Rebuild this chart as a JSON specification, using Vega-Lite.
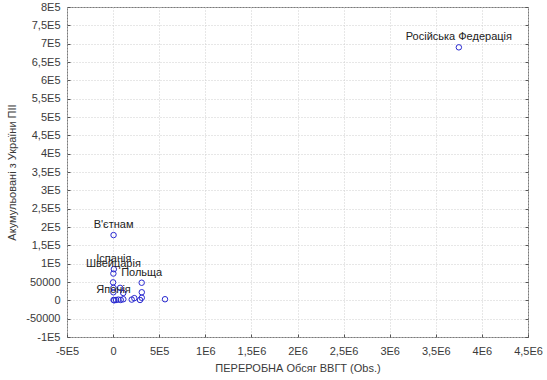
{
  "$schema": "https://vega.github.io/schema/vega-lite/v6.json",
  "width": 461,
  "height": 330,
  "autosize": "none",
  "padding": {"left": 67, "top": 7, "right": 19, "bottom": 43},
  "background": "white",
  "config": {
    "view": {"stroke": "#7a7a7a", "strokeWidth": 1},
    "axis": {
      "labelFont": "Liberation Sans",
      "titleFont": "Liberation Sans",
      "labelFontSize": 11,
      "titleFontSize": 11,
      "titleFontWeight": "normal",
      "labelColor": "#3a3a3a",
      "titleColor": "#3a3a3a",
      "gridColor": "#cfcfcf",
      "gridDash": [1, 2],
      "domain": false,
      "ticks": true,
      "tickSize": -3,
      "tickColor": "#555555"
    }
  },
  "resolve": {"axis": {"y": "independent"}},
  "data": {
    "values": [
      {"x": 3750000, "y": 690000, "label": "Російська Федерація"},
      {"x": 5000, "y": 178000, "label": "В'єтнам"},
      {"x": 8000, "y": 85000, "label": "Іспанія"},
      {"x": 3000, "y": 73000, "label": "Швейцарія"},
      {"x": 310000, "y": 48000, "label": "Польща"},
      {"x": 5000, "y": 1000, "label": "Японія"},
      {"x": 0, "y": 49000, "label": ""},
      {"x": 4000, "y": 34000, "label": ""},
      {"x": 76000, "y": 34000, "label": ""},
      {"x": 3000, "y": 22000, "label": ""},
      {"x": 110000, "y": 20000, "label": ""},
      {"x": 311000, "y": 22000, "label": ""},
      {"x": 12000, "y": 0, "label": ""},
      {"x": 32000, "y": 1000, "label": ""},
      {"x": 57000, "y": 2000, "label": ""},
      {"x": 83000, "y": 1000, "label": ""},
      {"x": 111000, "y": 3000, "label": ""},
      {"x": 202000, "y": 2000, "label": ""},
      {"x": 230000, "y": 6000, "label": ""},
      {"x": 292000, "y": 1000, "label": ""},
      {"x": 311000, "y": 7000, "label": ""},
      {"x": 563000, "y": 3000, "label": ""}
    ]
  },
  "encoding": {
    "x": {
      "field": "x",
      "type": "quantitative",
      "scale": {"domain": [-500000, 4500000], "nice": false, "zero": false},
      "axis": {
        "title": "ПЕРЕРОБНА Обсяг ВВГТ (Obs.)",
        "values": [-500000, 0, 500000, 1000000, 1500000, 2000000, 2500000, 3000000, 3500000, 4000000, 4500000],
        "labelPadding": 11,
        "titlePadding": 6,
        "labelFlush": false,
        "labelExpr": "datum.value == 0 ? '0' : abs(datum.value) < 100000 ? '' + datum.value : replace('' + round(datum.value / pow(10, floor(log(abs(datum.value)) / LN10 + 0.000001)) * 10) / 10, '.', ',') + 'E' + floor(log(abs(datum.value)) / LN10 + 0.000001)"
      }
    }
  },
  "layer": [
    {
      "mark": {"type": "point", "shape": "circle", "filled": false, "stroke": "#2a2ad0", "strokeWidth": 1, "size": 30, "opacity": 1},
      "encoding": {
        "y": {
          "field": "y",
          "type": "quantitative",
          "scale": {"domain": [-100000, 800000], "nice": false, "zero": false},
          "axis": {
            "title": "Акумульовані з України ПІІ",
            "values": [-100000, -50000, 0, 50000, 100000, 150000, 200000, 250000, 300000, 350000, 400000, 450000, 500000, 550000, 600000, 650000, 700000, 750000, 800000],
            "labelPadding": 10,
            "titlePadding": 8,
            "labelFlush": false,
            "labelExpr": "datum.value == 0 ? '0' : abs(datum.value) < 100000 ? '' + datum.value : replace('' + round(datum.value / pow(10, floor(log(abs(datum.value)) / LN10 + 0.000001)) * 10) / 10, '.', ',') + 'E' + floor(log(abs(datum.value)) / LN10 + 0.000001)"
          }
        }
      }
    },
    {
      "mark": {"type": "text", "font": "Liberation Sans", "fontSize": 11, "color": "#222222", "dy": -10, "baseline": "middle", "align": "center"},
      "encoding": {
        "y": {
          "field": "y",
          "type": "quantitative",
          "scale": {"domain": [-100000, 800000], "nice": false, "zero": false},
          "axis": {
            "orient": "right",
            "title": null,
            "labels": false,
            "grid": false,
            "values": [-100000, -50000, 0, 50000, 100000, 150000, 200000, 250000, 300000, 350000, 400000, 450000, 500000, 550000, 600000, 650000, 700000, 750000, 800000]
          }
        },
        "text": {"field": "label"}
      }
    }
  ]
}
